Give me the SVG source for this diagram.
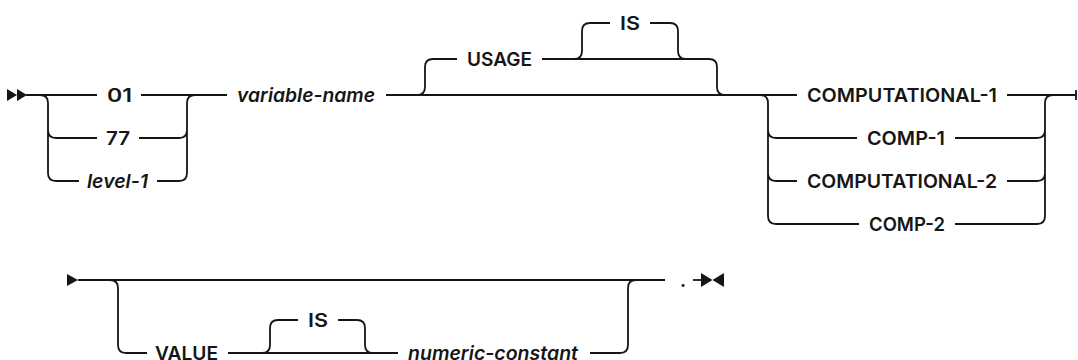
<svg xmlns="http://www.w3.org/2000/svg" width="1078" height="360" viewBox="0 0 1078 360">
<style>
.ln{fill:none;stroke:#161616;stroke-width:1.8}
.ar{fill:#161616;stroke:none}
.kw{font-family:Inter,"Liberation Sans",sans-serif;font-size:19px;font-weight:600;fill:#161616;text-anchor:middle}
.var{font-family:Inter,"Liberation Sans",sans-serif;font-size:19px;font-style:italic;font-weight:600;fill:#161616;text-anchor:middle}
</style>
<rect width="1078" height="360" fill="#ffffff"/>
<g id="connectors">
<path class="ln" d="M26 95 H97 M141 95 H227"/>
<path class="ln" d="M40 95 Q48 95 48 103 V173 Q48 181 56 181 H79 M48 130 Q48 138 56 138 H97"/>
<path class="ln" d="M139 138 H179 Q187 138 187 130 M157 181 H179 Q187 181 187 173 V103 Q187 95 195 95"/>
<path class="ln" d="M386 95 H797"/>
<path class="ln" d="M417 95 Q425 95 425 87 V67 Q425 59 433 59 H457 M542 59 H709 Q717 59 717 67 V87 Q717 95 725 95"/>
<path class="ln" d="M574 59 Q582 59 582 51 V31 Q582 23 590 23 H610 M650 23 H670 Q678 23 678 31 V51 Q678 59 686 59"/>
<path class="ln" d="M760 95 Q768 95 768 103 V216 Q768 224 776 224 H859 M768 130 Q768 138 776 138 H857 M768 173 Q768 181 776 181 H797"/>
<path class="ln" d="M1007 95 H1076 M1076 90 V100"/>
<path class="ln" d="M955 138 H1037 Q1045 138 1045 130 M1007 181 H1037 Q1045 181 1045 173 M955 224 H1037 Q1045 224 1045 216 V103 Q1045 95 1053 95"/>
<path class="ln" d="M78 280 H665"/>
<path class="ln" d="M110 280 Q118 280 118 288 V345 Q118 353 126 353 H147 M228 353 H398"/>
<path class="ln" d="M262 353 Q270 353 270 345 V328 Q270 320 278 320 H298 M338 320 H357 Q365 320 365 328 V345 Q365 353 373 353"/>
<path class="ln" d="M590 353 H620 Q628 353 628 345 V288 Q628 280 636 280"/>
<path class="ln" d="M693 280 H702"/>
<polygon class="ar" points="7,89 17,95 7,101"/>
<polygon class="ar" points="17,89 27,95 17,101"/>
<polygon class="ar" points="67,274 78,280 67,286"/>
<polygon class="ar" points="701,273 712.5,280 701,287"/>
<polygon class="ar" points="724,273 712.5,280 724,287"/>
</g>
<g id="n01"><text class="kw" x="119.5" y="101.8" textLength="25" lengthAdjust="spacingAndGlyphs">01</text></g>
<g id="n77"><text class="kw" x="118" y="144.8" textLength="24" lengthAdjust="spacingAndGlyphs">77</text></g>
<g id="level1"><text class="var" x="117.5" y="187.8" textLength="61" lengthAdjust="spacingAndGlyphs">level-1</text></g>
<g id="varname"><text class="var" x="306" y="101.8" textLength="138" lengthAdjust="spacingAndGlyphs">variable-name</text></g>
<g id="usage"><text class="kw" x="499.5" y="65.8" textLength="65" lengthAdjust="spacingAndGlyphs">USAGE</text></g>
<g id="is1"><text class="kw" x="630" y="29.8" textLength="20" lengthAdjust="spacingAndGlyphs">IS</text></g>
<g id="comp1long"><text class="kw" x="902" y="101.8" textLength="190" lengthAdjust="spacingAndGlyphs">COMPUTATIONAL-1</text></g>
<g id="comp1"><text class="kw" x="906" y="144.8" textLength="78" lengthAdjust="spacingAndGlyphs">COMP-1</text></g>
<g id="comp2long"><text class="kw" x="902" y="187.8" textLength="190" lengthAdjust="spacingAndGlyphs">COMPUTATIONAL-2</text></g>
<g id="comp2"><text class="kw" x="907" y="230.8" textLength="76" lengthAdjust="spacingAndGlyphs">COMP-2</text></g>
<g id="value"><text class="kw" x="186.5" y="359.8" textLength="63" lengthAdjust="spacingAndGlyphs">VALUE</text></g>
<g id="is2"><text class="kw" x="318" y="326.8" textLength="20" lengthAdjust="spacingAndGlyphs">IS</text></g>
<g id="numconst"><text class="var" x="493" y="359.8" textLength="170" lengthAdjust="spacingAndGlyphs">numeric-constant</text></g>
<g id="period"><text class="kw" x="683" y="286.5">.</text></g>
</svg>
